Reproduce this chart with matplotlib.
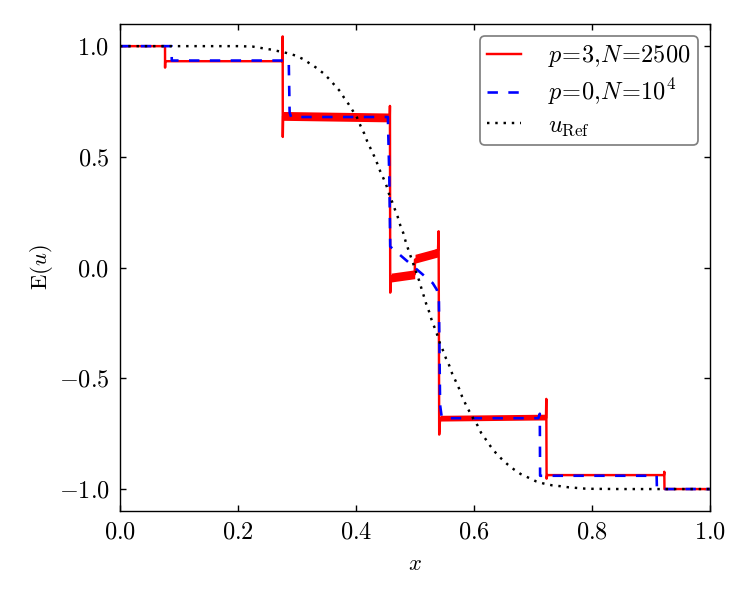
import matplotlib
matplotlib.use('Agg')
import matplotlib.pyplot as plt

# 参考解 u_Ref（从图上读取的点）
ref_x = [0.0, 0.15, 0.20, 0.225, 0.243, 0.257, 0.2825, 0.297, 0.31, 0.322, 0.333, 0.344,
         0.354, 0.363, 0.373, 0.380, 0.388, 0.395, 0.402, 0.408, 0.414, 0.419, 0.425,
         0.431, 0.436, 0.441, 0.447, 0.452, 0.456, 0.4615, 0.466, 0.4707, 0.475, 0.480,
         0.484, 0.4887, 0.493, 0.498, 0.502, 0.507, 0.511, 0.515, 0.519, 0.524, 0.528,
         0.533, 0.538, 0.542, 0.548, 0.5525, 0.558, 0.563, 0.569, 0.575, 0.580, 0.586,
         0.592, 0.599, 0.606, 0.612, 0.620, 0.628, 0.637, 0.646, 0.657, 0.668, 0.679,
         0.691, 0.705, 0.718, 0.732, 0.746, 0.76, 0.774, 0.788, 0.802, 0.85, 1.0]
ref_u = [1.0, 1.0, 1.0, 0.998, 0.99, 0.984, 0.969, 0.958, 0.942, 0.921, 0.902, 0.879,
         0.853, 0.826, 0.796, 0.766, 0.736, 0.706, 0.676, 0.638, 0.605, 0.570, 0.536,
         0.502, 0.470, 0.435, 0.400, 0.367, 0.332, 0.295, 0.262, 0.229, 0.191, 0.157,
         0.119, 0.081, 0.048, 0.010, -0.021, -0.059, -0.095, -0.129, -0.164, -0.200, -0.235,
         -0.270, -0.306, -0.340, -0.378, -0.410, -0.442, -0.479, -0.513, -0.548, -0.584, -0.618,
         -0.649, -0.683, -0.713, -0.746, -0.776, -0.807, -0.837, -0.862, -0.889, -0.912, -0.932,
         -0.947, -0.965, -0.975, -0.983, -0.987, -0.992, -0.995, -0.998, -0.999, -1.0, -1.0]

# p=0, N=10^4
p0_x = [0.0, 0.0876, 0.0877, 0.286, 0.2875, 0.290, 0.454, 0.4565, 0.458, 0.53, 0.537,
        0.5405, 0.5425, 0.545, 0.549, 0.709, 0.7115, 0.712, 0.9095, 0.910, 1.0]
p0_u = [1.0, 1.0, 0.935, 0.935, 0.70, 0.68, 0.68, 0.40, 0.095, -0.07, -0.10,
        -0.15, -0.62, -0.670, -0.68, -0.68, -0.66, -0.94, -0.94, -1.0, -1.0]

# p=3, N=2500（主线）
p3_x = [0.0, 0.0763, 0.0764, 0.0766, 0.2755, 0.2757, 0.2759, 0.2765, 0.4572, 0.4575,
        0.4580, 0.4595, 0.4995, 0.5000, 0.5390, 0.5400, 0.5410, 0.5425, 0.7220, 0.7225,
        0.7230, 0.7240, 0.9220, 0.9225, 0.9228, 1.0]
p3_u = [1.0, 1.0, 0.903, 0.932, 0.932, 1.044, 0.59, 0.685, 0.68, 0.73,
        -0.113, -0.04, -0.03, 0.036, 0.08, 0.164, -0.754, -0.68, -0.68, -0.593,
        -0.953, -0.937, -0.937, -0.922, -1.0, -1.0]

# p=3 的振荡带：起点、终点、中心值、半宽
band_x0 = [0.2765, 0.4595, 0.5000, 0.5425]
band_x1 = [0.4572, 0.4995, 0.5390, 0.7220]
band_c0 = [0.685, -0.045, 0.040, -0.680]
band_c1 = [0.678, -0.030, 0.068, -0.675]
band_w = [0.020, 0.020, 0.020, 0.013]

plt.rcParams['font.family'] = 'serif'
plt.rcParams['font.serif'] = ['cmr10']
plt.rcParams['mathtext.fontset'] = 'cm'
plt.rcParams['axes.formatter.use_mathtext'] = True
plt.rcParams['font.size'] = 14
plt.rcParams['xtick.direction'] = 'in'
plt.rcParams['ytick.direction'] = 'in'
plt.rcParams['xtick.top'] = True
plt.rcParams['ytick.right'] = True
plt.rcParams['xtick.major.pad'] = 6
plt.rcParams['ytick.major.pad'] = 6

fig = plt.figure(figsize=(6, 4.8), dpi=125)
ax = fig.add_axes([0.16, 0.148, 0.7867, 0.812])

for x0, x1, c0, c1, w in zip(band_x0, band_x1, band_c0, band_c1, band_w):
    ax.fill_between([x0, x1], [c0 - w, c1 - w], [c0 + w, c1 + w], color='r', lw=0)

ax.plot(p3_x, p3_u, color='r', lw=1.4, label=r'$p\!=\!3,\!N\!=\!2500$')
ax.plot(p0_x, p0_u, color='b', lw=1.5, dashes=(4, 4), label=r'$p\!=\!0,\!N\!=\!10^4$')
ax.plot(ref_x, ref_u, color='k', lw=1.4, dashes=(1, 2.4), label=r'$u_{\mathrm{Ref}}$')

ax.set_xlim(0, 1)
ax.set_ylim(-1.1, 1.1)
ax.set_xticks([0.0, 0.2, 0.4, 0.6, 0.8, 1.0])
ax.set_yticks([-1.0, -0.5, 0.0, 0.5, 1.0])
ax.set_xlabel(r'$x$', fontsize=13)
ax.set_ylabel(r'$\mathrm{E}(u)$', fontsize=13)
ax.xaxis.labelpad = 6
ax.yaxis.labelpad = 2

leg = ax.legend(loc='upper right', fontsize=14, fancybox=True, handlelength=1.4,
                handletextpad=1.1, labelspacing=0.3, borderpad=0.3, framealpha=1)
leg.get_frame().set_edgecolor('0.5')

fig.savefig('out.png', dpi=125)
